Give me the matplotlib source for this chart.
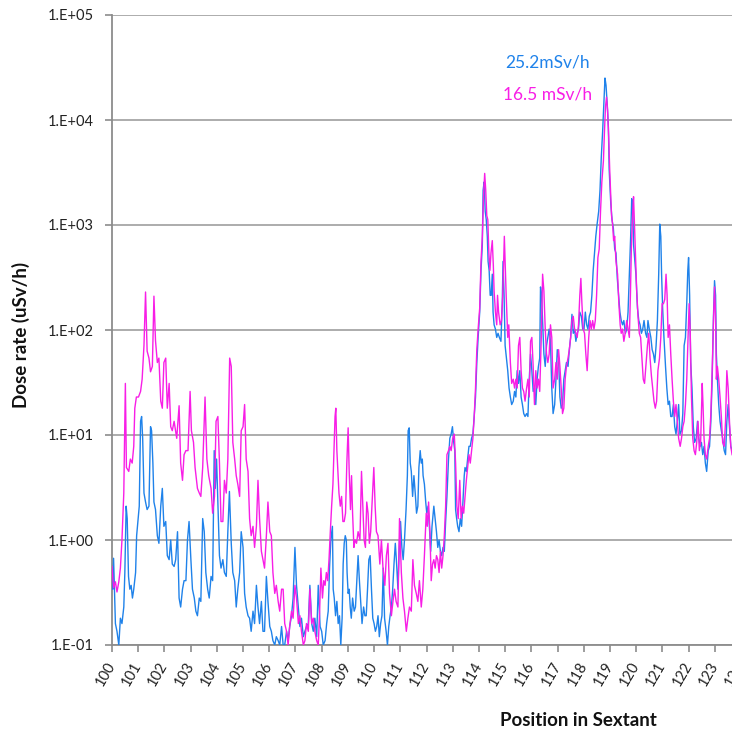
import matplotlib
matplotlib.use('Agg')
import matplotlib.pyplot as plt

# ---------------- data ----------------
pink_x = [
    100.00, 100.06, 100.13, 100.19, 100.26, 100.32, 100.38, 100.45, 100.51, 100.55,
    100.64, 100.70, 100.77, 100.83, 100.87, 100.93, 101.01, 101.09, 101.15, 101.22,
    101.28, 101.34, 101.41, 101.47, 101.54, 101.60, 101.66, 101.73, 101.79, 101.86,
    101.92, 101.98, 102.05, 102.11, 102.18, 102.24, 102.30, 102.37, 102.47, 102.56,
    102.62, 102.69, 102.75, 102.82, 102.90, 102.98, 103.03, 103.11, 103.17, 103.26,
    103.33, 103.39, 103.46, 103.55, 103.62, 103.69, 103.78, 103.84, 103.91, 103.97,
    104.04, 104.10, 104.16, 104.23, 104.29, 104.36, 104.42, 104.49, 104.55, 104.61,
    104.68, 104.74, 104.80, 104.87, 104.93, 105.00, 105.06, 105.12, 105.19, 105.25,
    105.31, 105.38, 105.44, 105.51, 105.57, 105.63, 105.70, 105.76, 105.82, 105.89,
    105.95, 106.02, 106.08, 106.14, 106.21, 106.27, 106.34, 106.40, 106.47, 106.53,
    106.59, 106.66, 106.72, 106.78, 106.85, 106.91, 106.98, 107.04, 107.11, 107.17,
    107.23, 107.30, 107.36, 107.42, 107.49, 107.55, 107.62, 107.68, 107.74, 107.81,
    107.87, 107.92, 107.97, 108.03, 108.08, 108.13, 108.18, 108.23, 108.28, 108.33,
    108.38, 108.43, 108.47, 108.51, 108.54, 108.58, 108.62, 108.66, 108.71, 108.76,
    108.81, 108.86, 108.91, 108.96, 109.01, 109.05, 109.10, 109.14, 109.18, 109.23,
    109.27, 109.33, 109.39, 109.46, 109.52, 109.57, 109.62, 109.67, 109.72, 109.77,
    109.82, 109.87, 109.94, 109.99, 110.04, 110.09, 110.15, 110.22, 110.28, 110.34,
    110.41, 110.47, 110.53, 110.59, 110.66, 110.72, 110.78, 110.84, 110.91, 110.97,
    111.04, 111.10, 111.16, 111.23, 111.29, 111.35, 111.42, 111.48, 111.54, 111.61,
    111.67, 111.73, 111.80, 111.86, 111.92, 111.99, 112.03, 112.08, 112.13, 112.18,
    112.23, 112.28, 112.33, 112.38, 112.43, 112.48, 112.53, 112.58, 112.63, 112.68,
    112.73, 112.78, 112.84, 112.89, 112.94, 113.00, 113.06, 113.11, 113.16, 113.21,
    113.27, 113.32, 113.37, 113.42, 113.47, 113.52, 113.57, 113.62, 113.67, 113.72,
    113.77, 113.82, 113.87, 113.92, 113.97, 114.03, 114.08, 114.13, 114.18, 114.22,
    114.26, 114.30, 114.34, 114.38, 114.42, 114.46, 114.51, 114.55, 114.58, 114.63,
    114.68, 114.71, 114.75, 114.81, 114.86, 114.91, 114.97, 115.04, 115.10, 115.14,
    115.20, 115.25, 115.31, 115.36, 115.41, 115.46, 115.51, 115.56, 115.61, 115.66,
    115.71, 115.76, 115.82, 115.87, 115.92, 115.97, 116.02, 116.07, 116.12, 116.17,
    116.22, 116.27, 116.32, 116.38, 116.43, 116.48, 116.53, 116.58, 116.63, 116.68,
    116.73, 116.78, 116.83, 116.89, 116.94, 116.99, 117.04, 117.09, 117.14, 117.19,
    117.24, 117.29, 117.34, 117.40, 117.45, 117.50, 117.55, 117.60, 117.65, 117.70,
    117.75, 117.80, 117.85, 117.89, 117.93, 117.98, 118.03, 118.08, 118.13, 118.19,
    118.24, 118.29, 118.34, 118.39, 118.44, 118.49, 118.54, 118.59, 118.64, 118.69,
    118.75, 118.79, 118.83, 118.87, 118.91, 118.95, 118.99, 119.03, 119.06, 119.10,
    119.14, 119.18, 119.23, 119.29, 119.34, 119.39, 119.43, 119.48, 119.53, 119.58,
    119.64, 119.69, 119.74, 119.78, 119.82, 119.87, 119.90, 119.94, 119.98, 120.02,
    120.07, 120.12, 120.17, 120.22, 120.27, 120.32, 120.38, 120.43, 120.48, 120.53,
    120.58, 120.63, 120.68, 120.73, 120.78, 120.83, 120.89, 120.94, 120.99, 121.04,
    121.09, 121.14, 121.18, 121.22, 121.27, 121.32, 121.37, 121.42, 121.47, 121.52,
    121.57, 121.62, 121.68, 121.73, 121.78, 121.83, 121.88, 121.93, 121.98, 122.02,
    122.06, 122.11, 122.16, 122.21, 122.26, 122.31, 122.36, 122.41, 122.46, 122.52,
    122.55, 122.59, 122.64, 122.69, 122.75, 122.80, 122.85, 122.90, 122.95, 122.99,
    123.03, 123.06, 123.10, 123.15, 123.20, 123.25, 123.30, 123.36, 123.41, 123.46,
    123.51, 123.56, 123.61, 123.66,
]
pink_y = [
    0.56, 0.35, 0.40, 0.32, 0.40, 0.54, 1.0, 2.8, 31, 4.9,
    4.5, 5.9, 5.4, 7.8, 18, 23, 23, 26, 34, 71,
    230, 63, 54, 40, 45, 210, 79, 49, 54, 21,
    18, 49, 54, 18, 31, 12, 11, 13.5, 9.3, 19,
    5.4, 3.7, 6.5, 7.1, 7.1, 26, 11, 8.5, 4.9, 3.1,
    2.8, 2.6, 4.9, 23, 5.9, 4.1, 3.1, 1.8, 2.6, 13.5,
    15, 5.4, 1.5, 1.5, 3.7, 2.8, 5.9, 54, 45, 8.5,
    5.9, 4.1, 3.4, 2.6, 11, 12, 19.5, 5.9, 4.5, 1.6,
    1.1, 1.35, 0.85, 1.35, 3.7, 1.6, 0.78, 0.65, 0.54, 1.1,
    2.3, 1.2, 1.1, 0.49, 0.31, 0.37, 0.26, 0.21, 0.34, 0.34,
    0.16, 0.135, 0.10, 0.15, 0.21, 0.18, 0.37, 0.28, 0.16, 0.19,
    0.135, 0.10, 0.11, 0.16, 0.135, 0.34, 0.16, 0.18, 0.135, 0.11,
    0.10, 0.20, 0.54, 0.28, 0.41, 0.37, 0.49, 0.41, 0.65, 1.2,
    2.1, 3.4, 7.1, 15, 18, 7.1, 4.5, 2.8, 2.1, 2.6,
    1.5, 1.5, 1.8, 5.4, 11.7, 4.5, 1.95, 4.1, 1.8, 0.85,
    1.0, 0.93, 1.2, 1.0, 4.5, 2.1, 1.0, 0.85, 2.3, 1.8,
    0.93, 1.2, 2.8, 4.9, 2.1, 1.2, 1.1, 0.59, 1.0, 0.54,
    0.37, 0.71, 0.93, 0.31, 0.19, 0.26, 0.34, 0.26, 0.23, 1.6,
    0.49, 0.28, 0.21, 0.135, 0.18, 0.23, 0.21, 0.65, 0.37, 0.31,
    0.26, 0.41, 0.23, 0.34, 0.71, 1.8, 1.35, 2.3, 1.2, 0.41,
    0.59, 0.65, 0.54, 0.71, 0.65, 0.49, 0.78, 0.54, 0.71, 1.1,
    2.1, 6.5, 7.1, 7.8, 7.1, 9.3, 10.2, 5.4, 2.1, 1.6,
    3.7, 1.6, 2.1, 1.8, 2.6, 3.7, 4.9, 6.5, 5.4, 7.1,
    9.3, 15, 28, 65, 102, 162, 450, 780, 1950, 3100,
    2140, 1230, 1120, 540, 370, 540, 710, 410, 234, 148,
    112, 214, 148, 112, 123, 214, 780, 214, 85, 112,
    49, 31, 34, 28, 34, 28, 71, 85, 41, 28,
    26, 21, 28, 34, 23, 78, 85, 45, 19.5, 41,
    28, 34, 26, 85, 340, 234, 102, 59, 49, 59,
    112, 85, 28, 34, 49, 34, 65, 45, 28, 16,
    18, 34, 45, 54, 65, 85, 123, 135, 102, 93,
    85, 112, 214, 310, 178, 102, 93, 59, 41, 85,
    123, 102, 123, 102, 123, 214, 490, 590, 1350, 2570,
    4070, 7760, 13500, 16500, 12300, 7080, 3390, 1950, 1230, 1020,
    710, 780, 450, 340, 178, 112, 93, 102, 78, 93,
    123, 102, 85, 214, 650, 1350, 1860, 930, 450, 234,
    135, 93, 85, 54, 34, 31, 49, 71, 93, 54,
    37, 28, 21, 18, 21, 41, 54, 85, 178, 178,
    195, 340, 214, 85, 112, 59, 34, 21, 15, 19.5,
    13.5, 9.3, 7.8, 9.3, 12, 13.5, 19.5, 34, 85, 178,
    102, 23, 9.3, 7.1, 6.5, 8.5, 13.5, 7.1, 8.5, 31,
    19.5, 9.3, 6.5, 5.9, 7.8, 9.3, 16, 41, 123, 257,
    135, 34, 45, 34, 23, 15, 8.5, 7.8, 13.5, 41,
    28, 13.5, 7.8, 6.5,
]

blue_x = [
    100.00, 100.03, 100.06, 100.13, 100.19, 100.26, 100.32, 100.38, 100.45, 100.49,
    100.54, 100.58, 100.63, 100.68, 100.73, 100.78, 100.83, 100.90, 100.94, 100.99,
    101.04, 101.09, 101.13, 101.17, 101.22, 101.28, 101.34, 101.41, 101.47, 101.51,
    101.56, 101.60, 101.66, 101.73, 101.79, 101.86, 101.92, 101.98, 102.05, 102.11,
    102.18, 102.24, 102.30, 102.37, 102.43, 102.50, 102.56, 102.62, 102.69, 102.75,
    102.82, 102.88, 102.94, 103.01, 103.07, 103.14, 103.20, 103.26, 103.33, 103.39,
    103.46, 103.52, 103.58, 103.65, 103.71, 103.78, 103.84, 103.90, 103.94, 103.99,
    104.03, 104.10, 104.16, 104.23, 104.29, 104.36, 104.42, 104.48, 104.55, 104.61,
    104.68, 104.74, 104.80, 104.87, 104.93, 105.00, 105.06, 105.12, 105.19, 105.25,
    105.31, 105.38, 105.44, 105.51, 105.57, 105.63, 105.70, 105.76, 105.82, 105.89,
    105.95, 106.02, 106.08, 106.14, 106.21, 106.27, 106.34, 106.40, 106.47, 106.53,
    106.59, 106.66, 106.72, 106.78, 106.85, 106.91, 106.98, 107.04, 107.11, 107.17,
    107.23, 107.30, 107.36, 107.42, 107.49, 107.55, 107.62, 107.68, 107.74, 107.81,
    107.87, 107.94, 108.00, 108.06, 108.13, 108.19, 108.25, 108.30, 108.35, 108.41,
    108.44, 108.48, 108.53, 108.58, 108.63, 108.68, 108.73, 108.78, 108.82, 108.86,
    108.90, 108.94, 108.97, 109.01, 109.05, 109.09, 109.13, 109.18, 109.24, 109.29,
    109.34, 109.39, 109.44, 109.49, 109.54, 109.60, 109.65, 109.70, 109.75, 109.80,
    109.85, 109.90, 109.95, 110.00, 110.05, 110.10, 110.15, 110.20, 110.25, 110.30,
    110.35, 110.40, 110.46, 110.51, 110.56, 110.61, 110.66, 110.71, 110.76, 110.81,
    110.86, 110.91, 110.96, 111.01, 111.06, 111.11, 111.16, 111.22, 111.27, 111.30,
    111.34, 111.38, 111.42, 111.47, 111.52, 111.57, 111.62, 111.67, 111.71, 111.76,
    111.80, 111.84, 111.87, 111.92, 111.97, 112.01, 112.06, 112.11, 112.16, 112.21,
    112.28, 112.33, 112.38, 112.43, 112.48, 112.53, 112.58, 112.63, 112.68, 112.73,
    112.78, 112.84, 112.89, 112.94, 112.99, 113.04, 113.08, 113.11, 113.15, 113.19,
    113.24, 113.29, 113.34, 113.39, 113.44, 113.47, 113.52, 113.57, 113.62, 113.67,
    113.72, 113.77, 113.82, 113.87, 113.92, 113.97, 114.03, 114.08, 114.13, 114.16,
    114.20, 114.24, 114.28, 114.32, 114.35, 114.39, 114.43, 114.47, 114.51, 114.54,
    114.58, 114.63, 114.68, 114.73, 114.78, 114.84, 114.89, 114.92, 114.96, 115.00,
    115.05, 115.10, 115.15, 115.20, 115.25, 115.31, 115.36, 115.41, 115.46, 115.51,
    115.56, 115.61, 115.66, 115.71, 115.76, 115.82, 115.87, 115.92, 115.97, 116.02,
    116.07, 116.12, 116.17, 116.22, 116.27, 116.32, 116.35, 116.39, 116.43, 116.48,
    116.53, 116.58, 116.63, 116.68, 116.73, 116.78, 116.83, 116.89, 116.94, 116.99,
    117.04, 117.09, 117.14, 117.19, 117.24, 117.29, 117.34, 117.40, 117.45, 117.50,
    117.55, 117.60, 117.65, 117.70, 117.75, 117.80, 117.85, 117.91, 117.96, 118.01,
    118.06, 118.11, 118.16, 118.21, 118.26, 118.31, 118.36, 118.41, 118.46, 118.51,
    118.57, 118.62, 118.67, 118.72, 118.77, 118.81, 118.85, 118.90, 118.94, 118.97,
    119.03, 119.08, 119.13, 119.18, 119.23, 119.28, 119.33, 119.38, 119.43, 119.48,
    119.53, 119.59, 119.64, 119.69, 119.74, 119.79, 119.83, 119.87, 119.90, 119.95,
    119.99, 120.05, 120.10, 120.15, 120.20, 120.25, 120.30, 120.36, 120.41, 120.45,
    120.50, 120.56, 120.61, 120.66, 120.71, 120.76, 120.81, 120.86, 120.90, 120.94,
    120.97, 121.01, 121.06, 121.12, 121.17, 121.22, 121.27, 121.32, 121.37, 121.42,
    121.47, 121.52, 121.57, 121.62, 121.67, 121.73, 121.78, 121.83, 121.88, 121.93,
    121.97, 122.00, 122.04, 122.08, 122.13, 122.18, 122.23, 122.29, 122.34, 122.39,
    122.44, 122.49, 122.54, 122.59, 122.64, 122.69, 122.75, 122.80, 122.85, 122.90,
    122.95, 122.99, 123.03, 123.06, 123.10, 123.15, 123.20, 123.25, 123.30, 123.36,
    123.41, 123.46, 123.51, 123.56, 123.61, 123.66,
]
blue_y = [
    0.50, 0.34, 0.67, 0.16, 0.135, 0.10, 0.18, 0.16, 0.23, 0.49,
    2.1, 1.6, 0.45, 0.34, 0.37, 0.28, 0.34, 0.49, 1.1, 1.5,
    2.1, 13.5, 15, 9.3, 2.8, 2.3, 1.95, 2.1, 12, 11,
    5.4, 2.3, 1.95, 1.1, 0.93, 2.1, 3.1, 1.35, 1.5, 0.71,
    0.65, 1.0, 0.59, 0.56, 0.65, 1.2, 0.28, 0.23, 0.34, 0.41,
    0.41, 1.0, 1.5, 0.65, 0.34, 0.28, 0.21, 0.19, 0.28, 0.26,
    1.6, 1.2, 0.49, 0.34, 0.28, 0.45, 0.41, 7.1, 3.1, 5.9,
    2.8, 0.71, 0.54, 0.65, 0.49, 0.45, 1.2, 2.9, 0.93, 0.49,
    0.41, 0.23, 0.34, 0.49, 1.2, 0.85, 0.31, 0.23, 0.19, 0.18,
    0.135, 0.21, 0.16, 0.37, 0.23, 0.16, 0.26, 0.135, 0.135, 0.45,
    0.26, 0.15, 0.135, 0.11, 0.10, 0.12, 0.11, 0.10, 0.15, 0.10,
    0.10, 0.135, 0.11, 0.15, 0.19, 0.28, 0.85, 0.37, 0.23, 0.15,
    0.18, 0.12, 0.135, 0.15, 0.16, 0.37, 0.16, 0.135, 0.18, 0.12,
    0.37, 0.15, 0.135, 0.10, 0.11, 0.16, 0.21, 0.54, 1.0, 1.35,
    0.34, 0.28, 0.19, 0.26, 0.16, 0.19, 0.10, 0.18, 0.59, 0.93,
    1.1, 1.0, 0.49, 0.31, 0.34, 0.23, 0.18, 0.28, 0.21, 0.23,
    0.41, 0.71, 0.41, 0.26, 0.16, 0.23, 0.19, 0.19, 0.34, 0.65,
    0.71, 0.34, 0.18, 0.16, 0.135, 0.15, 0.19, 0.12, 0.16, 0.19,
    0.54, 0.18, 0.135, 0.10, 0.15, 0.19, 0.23, 0.34, 0.59, 0.93,
    0.59, 0.34, 0.85, 1.5, 0.85, 0.65, 1.0, 1.95, 4.1, 11,
    11.7, 5.4, 4.5, 2.6, 4.1, 2.8, 1.8, 2.1, 4.9, 7.1,
    5.4, 5.9, 4.1, 3.4, 2.3, 1.8, 2.1, 1.35, 0.78, 1.35,
    2.1, 1.6, 1.2, 0.85, 1.0, 0.78, 0.71, 0.85, 0.78, 1.5,
    2.6, 5.9, 9.3, 10.2, 12, 8.5, 7.1, 1.95, 1.6, 1.35,
    1.2, 1.6, 1.35, 2.3, 4.1, 4.9, 4.5, 5.9, 7.8, 7.8,
    9.3, 10.2, 15, 23, 49, 85, 148, 370, 650, 2140,
    2570, 1350, 1120, 780, 450, 370, 214, 214, 340, 148,
    112, 102, 85, 93, 85, 78, 178, 450, 214, 71,
    54, 41, 28, 23, 19.5, 21, 26, 23, 41, 31,
    41, 23, 19.5, 16, 15, 16, 15, 34, 59, 41,
    26, 28, 19.5, 34, 45, 54, 257, 214, 123, 59,
    45, 71, 85, 102, 78, 28, 16, 19.5, 34, 65,
    54, 23, 18, 19.5, 34, 41, 49, 45, 65, 85,
    141, 93, 102, 78, 93, 102, 148, 135, 102, 102,
    148, 112, 102, 135, 148, 214, 370, 540, 780, 1020,
    1350, 2140, 4470, 7760, 14800, 25100, 21400, 13500, 8510, 3390,
    1620, 1120, 930, 590, 540, 310, 214, 148, 123, 112,
    123, 93, 102, 148, 340, 780, 1780, 1480, 650, 450,
    340, 162, 123, 112, 93, 102, 123, 93, 85, 123,
    102, 85, 65, 59, 49, 71, 123, 340, 1020, 780,
    340, 162, 85, 45, 28, 19.5, 21, 15, 15, 19.5,
    12, 10.2, 13.5, 19.5, 10.2, 11, 16, 71, 85, 178,
    370, 490, 214, 49, 28, 12, 8.5, 9.3, 13.5, 9.3,
    7.8, 8.5, 6.5, 7.8, 5.4, 4.5, 7.1, 7.8, 13.5, 34,
    135, 295, 214, 59, 34, 19.5, 13.5, 11, 9.3, 7.1,
    6.5, 13.5, 19.5, 12, 7.8, 7.1,
]

x_ticks = list(range(100, 125))
x_tick_labels = [str(v) for v in x_ticks]
y_ticks = [1e-1, 1e0, 1e1, 1e2, 1e3, 1e4, 1e5]
y_tick_labels = ['1.E-01', '1.E+00', '1.E+01', '1.E+02', '1.E+03', '1.E+04', '1.E+05']

blue_note = '25.2mSv/h'
pink_note = '16.5 mSv/h'

# ---------------- drawing ----------------
BLUE = '#1f82ea'
PINK = '#f81ee6'
GRID = '#a6a6a6'
AXC = '#8c8c8c'
FONT = 'Lato'

W, H = 732, 736
fig = plt.figure(figsize=(W / 100, H / 100), dpi=100)
ax = fig.add_axes([112 / W, 91 / H, 629 / W, 630 / H])

ax.plot(blue_x, blue_y, color=BLUE, lw=1.0, zorder=3)
ax.plot(pink_x, pink_y, color=PINK, lw=1.0, zorder=3)

ax.set_yscale('log')
ax.set_ylim(1e-1, 1e5)
ax.set_xlim(100, 124)
ax.set_yticks(y_ticks)
ax.set_yticklabels(y_tick_labels, fontfamily=FONT, fontsize=10.5, color='#222222')
ax.minorticks_off()
ax.set_xticks(x_ticks)
ax.set_xticklabels(x_tick_labels, fontfamily=FONT, fontsize=10.5, color='#222222',
                   rotation=60, ha='right', va='center', rotation_mode='anchor')

ax.grid(axis='y', color=GRID, lw=1.3, zorder=0)
ax.set_axisbelow(True)
for s in ('top', 'right'):
    ax.spines[s].set_visible(False)
for s in ('left', 'bottom'):
    ax.spines[s].set_color(AXC)
    ax.spines[s].set_linewidth(1.3)
ax.tick_params(axis='y', direction='out', length=5, width=1.2, color=AXC, pad=8)
ax.tick_params(axis='x', direction='out', length=5, width=1.2, color=AXC, pad=8)

fig.text(21 / W, 1 - 335 / H, 'Dose rate (uSv/h)', rotation=90, ha='center', va='center',
         fontfamily=FONT, fontweight='bold', fontsize=13.5, color='#111111')
fig.text(578 / W, 1 - 721 / H, 'Position in Sextant', ha='center', va='center',
         fontfamily=FONT, fontweight='bold', fontsize=13.5, color='#111111')

fig.text(505 / W, 1 - 62 / H, blue_note, ha='left', va='center',
         fontfamily=FONT, fontsize=12.5, color=BLUE)
fig.text(503 / W, 1 - 95 / H, pink_note, ha='left', va='center',
         fontfamily=FONT, fontsize=12.5, color=PINK)

fig.savefig('out.png', dpi=100)
